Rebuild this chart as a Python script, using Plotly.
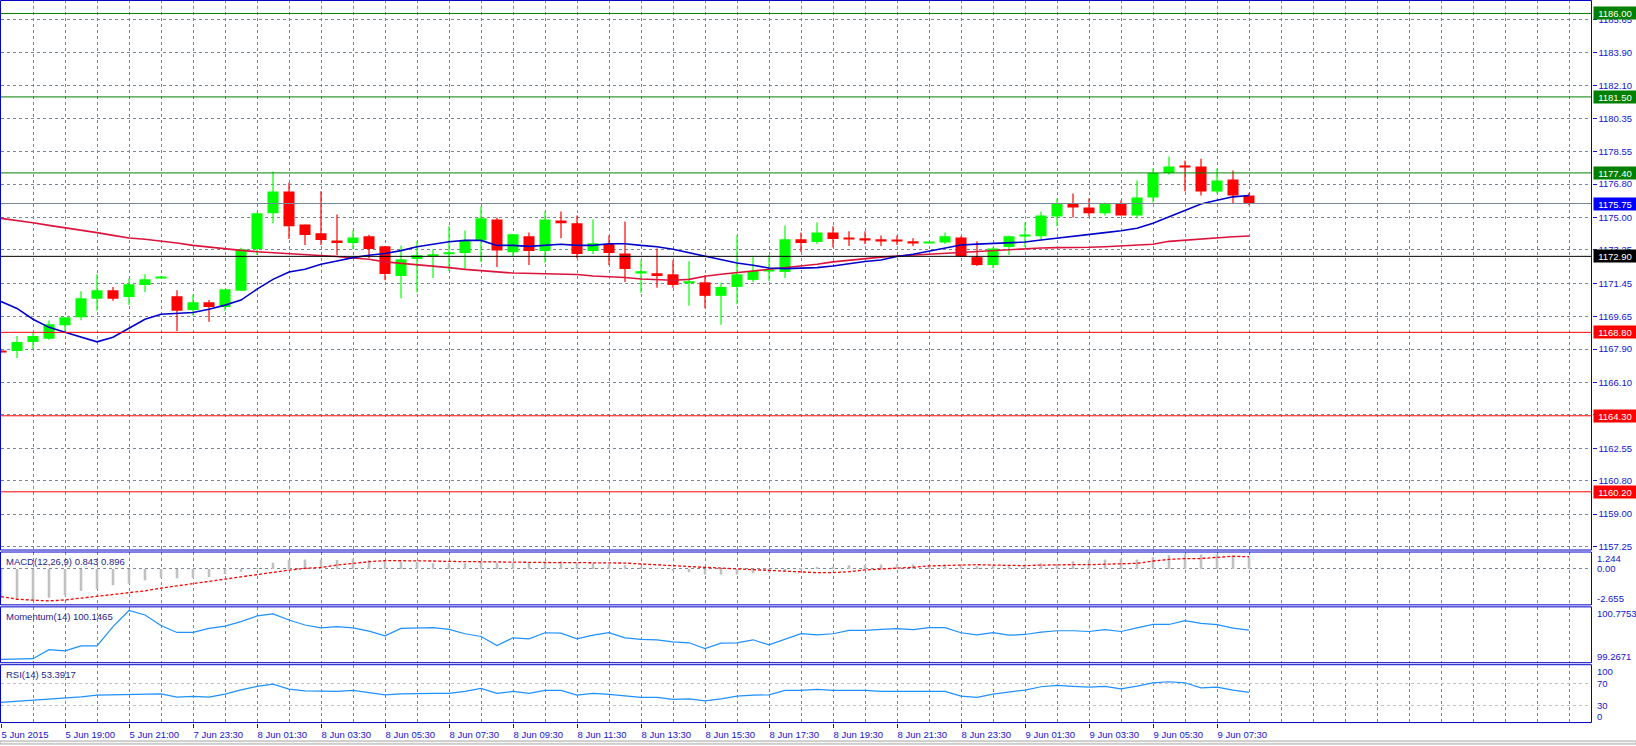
import plotly.graph_objects as go

# ---------------- data ----------------
time_labels = ["5 Jun 2015", "5 Jun 19:00", "5 Jun 21:00", "7 Jun 23:30", "8 Jun 01:30",
               "8 Jun 03:30", "8 Jun 05:30", "8 Jun 07:30", "8 Jun 09:30", "8 Jun 11:30",
               "8 Jun 13:30", "8 Jun 15:30", "8 Jun 17:30", "8 Jun 19:30", "8 Jun 21:30",
               "8 Jun 23:30", "9 Jun 01:30", "9 Jun 03:30", "9 Jun 05:30", "9 Jun 07:30"]
label_step = 4  # one time label every 4 bars

price_tick_values = [1185.65, 1183.90, 1182.10, 1180.35, 1178.55, 1176.80, 1175.00, 1173.25,
                     1171.45, 1169.65, 1167.90, 1166.10, 1164.35, 1162.55, 1160.80, 1159.00, 1157.25]

level_prices = [1186.00, 1181.50, 1177.40, 1175.75, 1172.90, 1168.80, 1164.30, 1160.20]
level_line_colors = ["#008000", "#008000", "#008000", "#778899", "#000000", "#FF0000", "#FF0000", "#FF0000"]
level_box_colors = ["#008000", "#008000", "#008000", "#0000FF", "#000000", "#FF0000", "#FF0000", "#FF0000"]

open_p = [1167.82, 1167.79, 1168.28, 1168.45, 1169.19, 1169.62, 1170.61, 1171.07, 1170.71, 1171.36,
          1171.74, 1170.75, 1170.01, 1170.43, 1170.17, 1171.04, 1173.29, 1175.23, 1176.40, 1174.62,
          1174.14, 1173.76, 1173.62, 1173.98, 1173.44, 1171.84, 1172.76, 1172.90, 1173.01, 1173.08,
          1173.76, 1174.89, 1173.12, 1173.98, 1173.19, 1174.84, 1174.68, 1173.19, 1173.56, 1173.06,
          1172.00, 1171.99, 1171.93, 1171.45, 1171.50, 1170.77, 1171.25, 1171.63, 1172.13, 1172.06,
          1173.82, 1173.67, 1174.19, 1173.90, 1173.87, 1173.82, 1173.80, 1173.71, 1173.62, 1173.65,
          1173.92, 1172.86, 1172.43, 1173.40, 1174.00, 1173.98, 1175.05, 1175.72, 1175.54, 1175.22,
          1175.72, 1175.11, 1176.08, 1177.40, 1177.76, 1177.74, 1176.40, 1177.04, 1176.18]
high_p = [1167.88, 1168.60, 1168.80, 1169.44, 1169.62, 1171.02, 1171.93, 1171.25, 1171.70, 1171.93,
          1171.84, 1171.07, 1170.84, 1170.54, 1171.13, 1173.37, 1175.27, 1177.47, 1176.87, 1174.62,
          1176.41, 1175.16, 1174.30, 1174.07, 1173.44, 1173.49, 1173.73, 1173.28, 1174.53, 1174.30,
          1175.59, 1175.00, 1174.09, 1174.19, 1175.32, 1175.32, 1175.11, 1174.89, 1174.03, 1174.78,
          1172.69, 1173.33, 1172.69, 1172.63, 1171.88, 1171.47, 1174.03, 1172.86, 1172.97, 1174.57,
          1174.18, 1174.73, 1174.52, 1174.25, 1174.25, 1174.03, 1174.03, 1173.87, 1173.68, 1174.19,
          1173.98, 1173.71, 1173.39, 1174.03, 1174.73, 1175.32, 1176.02, 1176.29, 1176.02, 1175.81,
          1175.91, 1176.99, 1177.64, 1178.28, 1178.07, 1178.17, 1177.64, 1177.53, 1176.33]
low_p = [1167.70, 1167.42, 1167.90, 1168.40, 1168.81, 1169.46, 1169.96, 1170.50, 1170.28, 1170.98,
         1171.72, 1168.88, 1169.69, 1169.37, 1169.96, 1171.04, 1172.97, 1174.69, 1173.83, 1173.51,
         1173.51, 1172.97, 1173.28, 1172.81, 1171.61, 1170.64, 1170.95, 1171.73, 1172.11, 1172.20,
         1172.60, 1172.33, 1172.92, 1172.43, 1172.56, 1173.87, 1172.81, 1173.03, 1172.43, 1171.52,
         1170.93, 1171.20, 1171.20, 1170.23, 1170.10, 1169.21, 1170.32, 1171.52, 1171.57, 1171.73,
         1173.13, 1173.56, 1173.39, 1173.46, 1173.56, 1173.46, 1173.51, 1173.46, 1173.60, 1173.56,
         1172.86, 1172.38, 1172.27, 1172.97, 1173.40, 1173.83, 1174.52, 1175.00, 1175.05, 1175.11,
         1175.11, 1174.96, 1175.81, 1177.30, 1176.40, 1176.18, 1176.29, 1175.75, 1175.65]
close_p = [1167.74, 1168.28, 1168.60, 1169.24, 1169.62, 1170.64, 1171.07, 1170.61, 1171.40, 1171.67,
           1171.80, 1169.96, 1170.43, 1170.17, 1171.13, 1173.28, 1175.22, 1176.40, 1174.53, 1174.05,
           1173.78, 1173.62, 1173.92, 1173.29, 1171.95, 1172.74, 1172.96, 1173.01, 1173.12, 1173.73,
           1174.95, 1173.22, 1174.09, 1173.19, 1174.89, 1174.69, 1173.03, 1173.60, 1173.08, 1172.22,
           1172.10, 1171.84, 1171.36, 1171.56, 1170.77, 1171.25, 1171.93, 1172.11, 1172.18, 1173.82,
           1173.62, 1174.19, 1173.83, 1173.85, 1173.78, 1173.73, 1173.72, 1173.62, 1173.65, 1173.98,
           1172.90, 1172.43, 1173.33, 1173.98, 1174.05, 1175.11, 1175.72, 1175.54, 1175.22, 1175.72,
           1175.11, 1176.08, 1177.40, 1177.74, 1177.72, 1176.40, 1176.99, 1176.18, 1175.75]

ma_fast = [1170.47, 1170.09, 1169.51, 1169.07, 1168.80, 1168.53, 1168.29, 1168.54, 1169.01, 1169.51,
           1169.78, 1169.84, 1169.87, 1170.05, 1170.27, 1170.54, 1171.13, 1171.66, 1172.06, 1172.20,
           1172.47, 1172.65, 1172.83, 1172.96, 1173.05, 1173.21, 1173.42, 1173.55, 1173.69, 1173.76,
           1173.76, 1173.49, 1173.49, 1173.44, 1173.49, 1173.55, 1173.49, 1173.49, 1173.58, 1173.58,
           1173.49, 1173.42, 1173.28, 1173.10, 1172.89, 1172.70, 1172.54, 1172.42, 1172.27, 1172.24,
           1172.26, 1172.29, 1172.38, 1172.51, 1172.62, 1172.70, 1172.89, 1173.01, 1173.19, 1173.37,
           1173.51, 1173.56, 1173.60, 1173.64, 1173.67, 1173.78, 1173.89, 1174.00, 1174.09, 1174.18,
           1174.28, 1174.42, 1174.68, 1175.04, 1175.39, 1175.72, 1175.93, 1176.11, 1176.18]
ma_slow = [1174.95, 1174.84, 1174.71, 1174.57, 1174.45, 1174.32, 1174.18, 1174.03, 1173.89, 1173.82,
           1173.73, 1173.62, 1173.49, 1173.39, 1173.28, 1173.22, 1173.15, 1173.10, 1173.05, 1172.99,
           1172.92, 1172.89, 1172.81, 1172.74, 1172.60, 1172.53, 1172.47, 1172.38, 1172.29, 1172.20,
           1172.15, 1172.06, 1172.00, 1171.97, 1171.97, 1171.93, 1171.92, 1171.84, 1171.81, 1171.76,
           1171.68, 1171.63, 1171.61, 1171.66, 1171.83, 1171.93, 1172.02, 1172.08, 1172.17, 1172.29,
           1172.38, 1172.47, 1172.60, 1172.70, 1172.79, 1172.86, 1172.92, 1172.97, 1173.01, 1173.05,
           1173.10, 1173.15, 1173.24, 1173.29, 1173.33, 1173.35, 1173.37, 1173.37, 1173.39, 1173.42,
           1173.46, 1173.49, 1173.55, 1173.71, 1173.78, 1173.83, 1173.91, 1173.96, 1174.00]

macd_hist = [-2.13, -2.30, -2.37, -2.13, -1.96, -1.63, -1.48, -1.21, -1.07, -0.84,
             -0.645, -0.69, -0.69, -0.59, -0.40, -0.22, 0.05, 0.45, 0.64, 0.69,
             0.69, 0.66, 0.74, 0.66, 0.58, 0.50, 0.50, 0.41, 0.41, 0.41,
             0.53, 0.46, 0.46, 0.46, 0.50, 0.56, 0.46, 0.41, 0.33, 0.26,
             0.16, 0.06, -0.16, -0.24, -0.41, -0.41, -0.41, -0.33, -0.24, -0.19,
             -0.09, 0.11, 0.16, 0.26, 0.28, 0.33, 0.33, 0.33, 0.28, 0.33,
             0.33, 0.21, 0.21, 0.20, 0.31, 0.41, 0.36, 0.56, 0.63, 0.70,
             0.73, 0.70, 0.85, 1.00, 1.07, 1.07, 1.07, 1.00, 0.843]
macd_signal = [-2.04, -2.24, -2.31, -2.36, -2.29, -2.16, -2.04, -1.87, -1.74, -1.62,
               -1.42, -1.25, -1.07, -0.90, -0.75, -0.58, -0.38, -0.26, -0.09, 0.04,
               0.11, 0.28, 0.41, 0.53, 0.61, 0.61, 0.60, 0.58, 0.55, 0.53,
               0.52, 0.49, 0.47, 0.46, 0.46, 0.46, 0.46, 0.46, 0.45, 0.43,
               0.36, 0.32, 0.24, 0.17, 0.11, 0.04, -0.01, -0.09, -0.15, -0.21,
               -0.27, -0.28, -0.27, -0.21, -0.08, -0.02, 0.09, 0.12, 0.22, 0.26,
               0.30, 0.31, 0.28, 0.26, 0.24, 0.28, 0.31, 0.31, 0.31, 0.36,
               0.41, 0.41, 0.58, 0.70, 0.76, 0.76, 0.85, 0.93, 0.896]
macd_range = [-2.655, 1.244]
macd_labels = ["1.244", "0.00", "-2.655"]

momentum = [99.357, 99.357, 99.376, 99.62, 99.586, 99.72, 99.72, 100.24, 100.677, 100.557,
            100.27, 100.085, 100.085, 100.195, 100.257, 100.377, 100.53, 100.585, 100.42, 100.285,
            100.21, 100.24, 100.21, 100.12, 99.995, 100.195, 100.214, 100.214, 100.167, 100.05,
            99.976, 99.73, 99.94, 99.91, 100.077, 100.066, 99.91, 100.01, 100.077, 99.94,
            99.90, 99.886, 99.83, 99.805, 99.65, 99.795, 99.805, 99.886, 99.75, 99.91,
            100.05, 100.02, 100.05, 100.14, 100.14, 100.167, 100.186, 100.16, 100.214, 100.214,
            100.077, 100.02, 100.077, 100.01, 100.03, 100.094, 100.13, 100.13, 100.11, 100.16,
            100.11, 100.21, 100.30, 100.30, 100.404, 100.33, 100.295, 100.20, 100.1465]
momentum_range = [99.2671, 100.7753]
momentum_labels = ["100.7753", "99.2671"]

rsi = [35.0, 36.8, 38.7, 41.1, 42.9, 45.3, 48.4, 49.0, 50.8, 50.8,
       50.8, 44.8, 46.0, 44.8, 50.3, 58.2, 64.5, 68.7, 59.5, 56.4,
       55.2, 55.2, 57.1, 53.4, 49.0, 50.8, 51.6, 51.6, 51.6, 55.2,
       60.8, 51.6, 55.2, 51.6, 57.1, 57.1, 48.4, 51.6, 49.7, 46.6,
       44.2, 44.2, 40.5, 41.6, 37.9, 41.6, 46.6, 48.4, 49.0, 57.1,
       57.1, 58.9, 57.1, 57.1, 57.1, 55.2, 55.2, 55.2, 55.2, 55.2,
       46.6, 44.2, 50.3, 54.5, 57.7, 63.8, 66.3, 64.5, 63.2, 64.5,
       60.1, 65.0, 71.1, 73.0, 71.1, 61.9, 63.2, 57.7, 53.39]
rsi_range = [-1.9, 104.3]
rsi_levels = [70, 30]
rsi_labels = [("100", 104.3, "top"), ("70", 70, "middle"), ("30", 30, "middle"), ("0", -1.9, "bottom")]

macd_title = "MACD(12,26,9) 0.843 0.896"
momentum_title = "Momentum(14) 100.1465"
rsi_title = "RSI(14) 53.3917"

# ---------------- layout constants ----------------
W, H = 1636, 746
FONT = "Liberation Sans"
FS = 9.5
BLUE = "#1414D2"
FRAME = "#0000C8"
GRID = "#778899"
TITLE_C = "#24248C"
UP, DOWN = "#00FF00", "#FF0000"
X_LEFT, X_RIGHT = 0.5, 1591.5
PX_PER_BAR, BAR0_PX = 16.0, 1.0
MAIN_P, MACD_P, MOM_P, RSI_P = (0.5, 551.5), (553.5, 606.5), (608.5, 664.5), (666.5, 724.5)
main_range = [1157.06, 1186.70]


def py(px):
    return 1 - px / H


def dom(p):
    return [py(p[1]), py(p[0])]


n = len(close_p)
bars = list(range(n))
x_range = [(X_LEFT - BAR0_PX) / PX_PER_BAR, (X_RIGHT - BAR0_PX) / PX_PER_BAR]
label_bars = list(range(0, label_step * len(time_labels), label_step))

fig = go.Figure()

# wicks
for col, is_up in ((UP, True), (DOWN, False)):
    wx, wy = [], []
    for k in bars:
        if (close_p[k] >= open_p[k]) == is_up:
            wx += [k, k, None]
            wy += [low_p[k], high_p[k], None]
    fig.add_trace(go.Scatter(x=wx, y=wy, mode="lines", line=dict(color=col, width=1.2),
                             hoverinfo="skip", xaxis="x", yaxis="y"))

# bodies
for col, is_up in ((UP, True), (DOWN, False)):
    bx, base, hgt = [], [], []
    for k in bars:
        if (close_p[k] >= open_p[k]) == is_up:
            lo, hi = min(open_p[k], close_p[k]), max(open_p[k], close_p[k])
            bx.append(k)
            base.append(lo)
            hgt.append(max(hi - lo, 0.055))
    fig.add_trace(go.Bar(x=bx, y=hgt, base=base, width=0.69, marker=dict(color=col, line=dict(width=0)),
                         xaxis="x", yaxis="y"))

# moving averages
fig.add_trace(go.Scatter(x=bars, y=ma_slow, mode="lines", line=dict(color="#DC143C", width=1.6),
                         xaxis="x", yaxis="y"))
fig.add_trace(go.Scatter(x=bars, y=ma_fast, mode="lines", line=dict(color="#0000CD", width=1.6),
                         xaxis="x", yaxis="y"))

# MACD
fig.add_trace(go.Bar(x=bars, y=macd_hist, width=0.16, marker=dict(color="#C0C0C0", line=dict(width=0)),
                     xaxis="x2", yaxis="y2"))
fig.add_trace(go.Scatter(x=bars, y=macd_signal, mode="lines",
                         line=dict(color="#FF0000", width=1.3, dash="3px,2px"), xaxis="x2", yaxis="y2"))

# Momentum
fig.add_trace(go.Scatter(x=bars, y=momentum, mode="lines", line=dict(color="#1E90FF", width=1.2),
                         xaxis="x3", yaxis="y3"))
# RSI
fig.add_trace(go.Scatter(x=bars, y=rsi, mode="lines", line=dict(color="#1E90FF", width=1.2),
                         xaxis="x4", yaxis="y4"))


def xaxis(anchor, labels):
    d = dict(domain=[X_LEFT / W, X_RIGHT / W], range=x_range, anchor=anchor, fixedrange=True,
             showgrid=True, gridcolor=GRID, griddash="3px,3px", gridwidth=1, zeroline=False, showline=False,
             tickmode="array", tickvals=label_bars,
             minor=dict(tickmode="linear", tick0=0, dtick=2, showgrid=True, gridcolor=GRID,
                        griddash="3px,3px", gridwidth=1, ticks=""))
    if labels:
        d.update(ticktext=time_labels, ticks="outside", ticklen=4, tickcolor=BLUE, tickwidth=1,
                 ticklabelposition="outside right", ticklabelstandoff=3,
                 tickfont=dict(family=FONT, size=FS, color=BLUE))
    else:
        d.update(showticklabels=False, ticks="")
    return d


fig.update_layout(
    width=W, height=H, margin=dict(l=0, r=0, t=0, b=0), paper_bgcolor="white", plot_bgcolor="white",
    showlegend=False, barmode="overlay", hovermode=False,
    xaxis=xaxis("y", False), xaxis2=xaxis("y2", False), xaxis3=xaxis("y3", False), xaxis4=xaxis("y4", True),
    yaxis=dict(domain=dom(MAIN_P), range=main_range, side="right", anchor="x", fixedrange=True,
               tickmode="array", tickvals=price_tick_values, ticktext=[f"{v:.2f}" for v in price_tick_values],
               ticks="outside", ticklen=4, tickcolor=BLUE, tickwidth=1,
               tickfont=dict(family=FONT, size=FS, color=BLUE),
               showgrid=True, gridcolor=GRID, griddash="3px,3px", gridwidth=1, zeroline=False, showline=False),
    yaxis2=dict(domain=dom(MACD_P), range=macd_range, anchor="x2", side="right", fixedrange=True,
                tickmode="array", tickvals=[0], showticklabels=False, ticks="",
                showgrid=True, gridcolor=GRID, griddash="3px,3px", zeroline=False, showline=False),
    yaxis3=dict(domain=dom(MOM_P), range=momentum_range, anchor="x3", side="right", fixedrange=True,
                showticklabels=False, ticks="", showgrid=False, zeroline=False, showline=False),
    yaxis4=dict(domain=dom(RSI_P), range=rsi_range, anchor="x4", side="right", fixedrange=True,
                tickmode="array", tickvals=rsi_levels, showticklabels=False, ticks="",
                showgrid=True, gridcolor="#C0C0C0", griddash="3px,3px", zeroline=False, showline=False),
)

shapes = []
# price level lines
for p, c in zip(level_prices, level_line_colors):
    shapes.append(dict(type="line", xref="paper", yref="y", x0=X_LEFT / W, x1=X_RIGHT / W, y0=p, y1=p,
                       line=dict(color=c, width=1), layer="above"))
# panel frames
for p in (MAIN_P, MACD_P, MOM_P, RSI_P):
    shapes.append(dict(type="rect", xref="paper", yref="paper", x0=X_LEFT / W, x1=X_RIGHT / W,
                       y0=py(p[1]), y1=py(p[0]), line=dict(color=FRAME, width=1), layer="above"))
# bottom window edge
shapes.append(dict(type="rect", xref="paper", yref="paper", x0=0, x1=1, y0=0, y1=py(743),
                   fillcolor="#F4F4F4", line=dict(color="#A8A8A8", width=1), layer="above"))
fig.update_layout(shapes=shapes)

ann = []
# coloured price boxes
for p, c in zip(level_prices, level_box_colors):
    ann.append(dict(xref="paper", yref="y", x=(X_RIGHT + 1.5) / W, y=p, xanchor="left", yanchor="middle",
                    text=f"{p:.2f}", showarrow=False, bgcolor=c, width=42, height=12, borderpad=0,
                    align="center", font=dict(family=FONT, size=FS, color="white")))
# subpanel scale labels
LX = (X_RIGHT + 4) / W
for txt, v, anc in zip(macd_labels, [macd_range[1], 0, macd_range[0]], ["top", "middle", "bottom"]):
    ann.append(dict(xref="paper", yref="y2", x=LX, y=v, xanchor="left", yanchor=anc, text=txt,
                    showarrow=False, borderpad=0, font=dict(family=FONT, size=FS, color=BLUE)))
for txt, v, anc in zip(momentum_labels, [momentum_range[1], momentum_range[0]], ["top", "bottom"]):
    ann.append(dict(xref="paper", yref="y3", x=LX, y=v, xanchor="left", yanchor=anc, text=txt,
                    showarrow=False, borderpad=0, font=dict(family=FONT, size=FS, color=BLUE)))
for txt, v, anc in rsi_labels:
    ann.append(dict(xref="paper", yref="y4", x=LX, y=v, xanchor="left", yanchor=anc, text=txt,
                    showarrow=False, borderpad=0, font=dict(family=FONT, size=FS, color=BLUE)))
# indicator titles
for txt, p in ((macd_title, MACD_P), (momentum_title, MOM_P), (rsi_title, RSI_P)):
    ann.append(dict(xref="paper", yref="paper", x=5 / W, y=py(p[0] + 3), xanchor="left", yanchor="top",
                    text=txt, showarrow=False, borderpad=0, font=dict(family=FONT, size=FS, color=TITLE_C)))
fig.update_layout(annotations=ann)

fig.write_html("out.html")
